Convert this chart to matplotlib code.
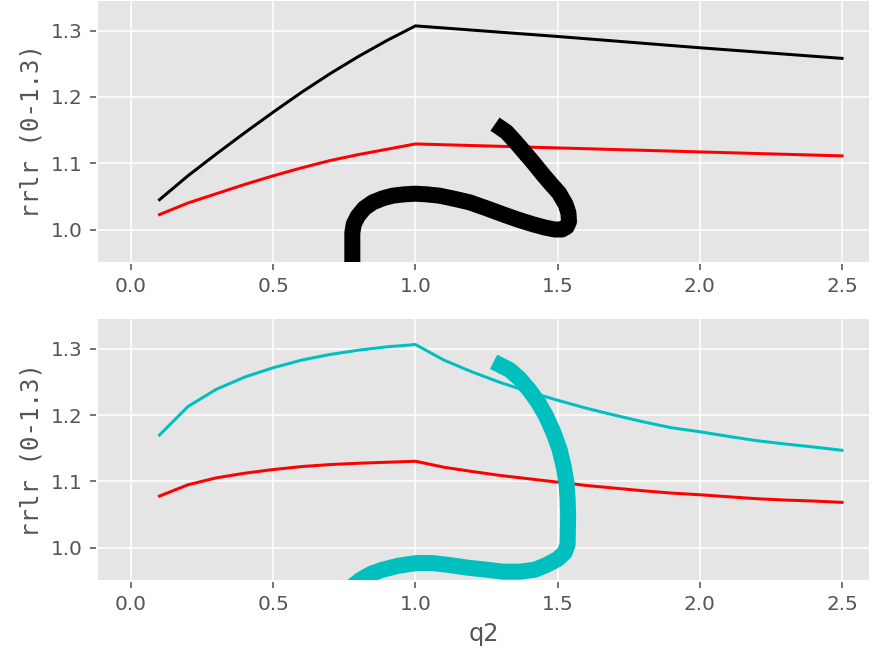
import matplotlib
matplotlib.use("Agg")
import matplotlib.pyplot as plt

plt.style.use("ggplot")

# --- data ---
q2_top = [0.1, 0.2, 0.3, 0.4, 0.5, 0.6, 0.7, 0.8, 0.9, 1.0, 1.5, 2.0, 2.5]
black_top = [1.045, 1.081, 1.114, 1.146, 1.177, 1.207, 1.235, 1.261, 1.285, 1.307,
             1.291, 1.274, 1.258]
red_top = [1.0225, 1.040, 1.054, 1.068, 1.081, 1.093, 1.104, 1.113, 1.121, 1.129,
           1.123, 1.117, 1.111]

q2_bot = [0.1, 0.2, 0.3, 0.4, 0.5, 0.6, 0.7, 0.8, 0.9, 1.0,
          1.1, 1.2, 1.3, 1.4, 1.5, 1.6, 1.7, 1.8, 1.9, 2.0,
          2.1, 2.2, 2.3, 2.4, 2.5]
cyan_bot = [1.170, 1.213, 1.239, 1.2575, 1.2715, 1.283, 1.2915, 1.298, 1.303, 1.3065,
            1.283, 1.265, 1.249, 1.235, 1.2225, 1.2105, 1.200, 1.190, 1.181, 1.175,
            1.168, 1.1615, 1.1565, 1.152, 1.147]
red_bot = [1.078, 1.095, 1.1055, 1.1125, 1.118, 1.1225, 1.1255, 1.1275, 1.129, 1.1305,
           1.1215, 1.115, 1.109, 1.104, 1.099, 1.094, 1.090, 1.086, 1.0825, 1.080,
           1.077, 1.074, 1.072, 1.0705, 1.0685]

# thick curves (x, y pairs)
curve_top_x = [0.778, 0.778, 0.783, 0.797, 0.820, 0.850, 0.885, 0.920, 0.960, 1.000,
               1.040, 1.085, 1.140, 1.190, 1.250, 1.307, 1.360, 1.412, 1.455, 1.490,
               1.515, 1.532, 1.540, 1.538, 1.528, 1.505, 1.478, 1.448, 1.416, 1.384,
               1.352, 1.320, 1.303]
curve_top_y = [0.900, 0.995, 1.008, 1.020, 1.032, 1.041, 1.047, 1.051, 1.053, 1.054,
               1.053, 1.051, 1.046, 1.041, 1.032, 1.023, 1.015, 1.008, 1.003, 1.000,
               1.000, 1.004, 1.012, 1.025, 1.038, 1.055, 1.068, 1.083, 1.100, 1.116,
               1.132, 1.147, 1.152]

curve_bot_x = [0.750, 0.778, 0.808, 0.845, 0.885, 0.940, 1.004, 1.060, 1.120, 1.185,
               1.250, 1.310, 1.367, 1.420, 1.460, 1.500, 1.525, 1.535, 1.537, 1.535,
               1.531, 1.521, 1.507, 1.486, 1.460, 1.432, 1.400, 1.366, 1.332, 1.300]
curve_bot_y = [0.930, 0.942, 0.952, 0.961, 0.967, 0.973, 0.977, 0.977, 0.974, 0.970,
               0.967, 0.964, 0.964, 0.967, 0.974, 0.983, 0.993, 1.005, 1.047, 1.075,
               1.098, 1.123, 1.148, 1.173, 1.198, 1.219, 1.238, 1.255, 1.268, 1.275]

fig = plt.figure(figsize=(872 / 144, 659 / 144), dpi=144)
ax1 = fig.add_axes([0.1112, 0.6014, 0.8870, 0.3986])
ax2 = fig.add_axes([0.1112, 0.1184, 0.8870, 0.3986])

ax1.plot(q2_top, black_top, color="k", lw=1.5)
ax1.plot(q2_top, red_top, color="r", lw=1.5)
ax1.plot(curve_top_x, curve_top_y, color="k", lw=8, solid_joinstyle="round")

ax2.plot(q2_bot, cyan_bot, color="c", lw=1.5)
ax2.plot(q2_bot, red_bot, color="r", lw=1.5)
ax2.plot(curve_bot_x, curve_bot_y, color="c", lw=8, solid_joinstyle="round")

for ax in (ax1, ax2):
    ax.set_xlim(-0.12, 2.6)
    ax.set_ylim(0.95, 1.346)
    ax.set_xticks([0.0, 0.5, 1.0, 1.5, 2.0, 2.5])
    ax.set_yticks([1.0, 1.1, 1.2, 1.3])
    ax.set_ylabel("rrlr (0-1.3)", family="DejaVu Sans Mono", fontsize=12, color="#555555")

ax2.set_xlabel("q2", fontsize=12, color="#555555")

fig.savefig("out.png", dpi=144)
